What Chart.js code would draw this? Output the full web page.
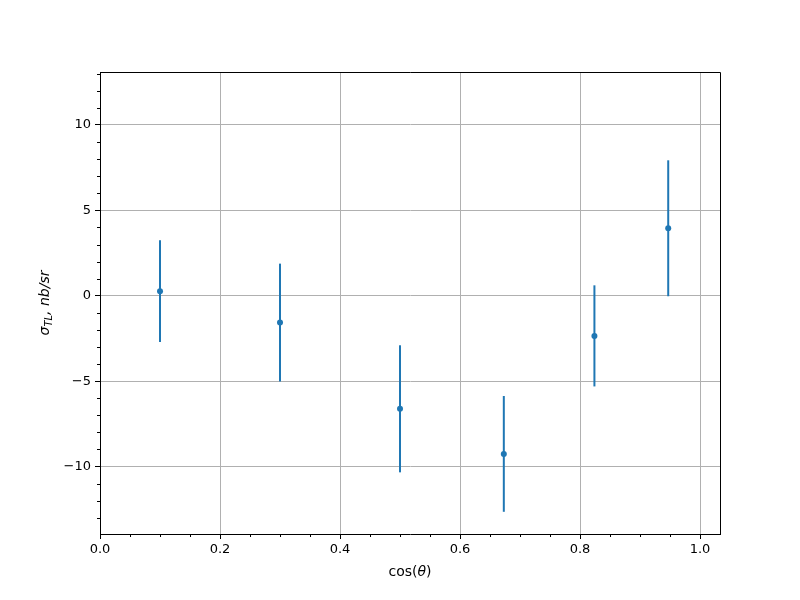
<!DOCTYPE html>
<html>
<head>
<meta charset="utf-8">
<script src="https://cdn.jsdelivr.net/npm/chart.js@4"></script>
<style>
  html, body { margin: 0; padding: 0; background: #fff; }
</style>
</head>
<body>
<canvas id="errChart" width="800" height="600"></canvas>
<script>
const cosTheta = [0.1, 0.3, 0.5, 0.673, 0.824, 0.947];
const sigmaTL = [0.27, -1.57, -6.62, -9.26, -2.35, 3.95];
const sigmaErr = [2.98, 3.45, 3.72, 3.39, 2.96, 3.98];
const xTicks = [0, 0.2, 0.4, 0.6, 0.8, 1.0];
const yTicks = [-10, -5, 0, 5, 10];
const xMinorStep = 0.05;
const yMinorStep = 1;

const blue = '#1f77b4';
const tickFont = { family: 'DejaVu Sans', size: 13 };

// one little line dataset per error bar
const errorBars = cosTheta.map((x, i) => ({
    data: [{ x: x, y: sigmaTL[i] - sigmaErr[i] }, { x: x, y: sigmaTL[i] + sigmaErr[i] }],
    showLine: true,
    borderColor: blue,
    borderWidth: 2,
    pointRadius: 0,
    order: 1
}));

const points = {
    data: cosTheta.map((x, i) => ({ x: x, y: sigmaTL[i] })),
    backgroundColor: blue,
    borderColor: blue,
    pointRadius: 3,
    borderWidth: 0,
    order: 0
};

const minus = v => String(v).replace('-', '\u2212');

// top/right spines, minor ticks and the mathtext-like axis labels
const framePlugin = {
    id: 'frame',
    afterDraw(chart) {
        const ctx = chart.ctx;
        const a = chart.chartArea;
        const xs = chart.scales.x, ys = chart.scales.y;
        ctx.save();
        ctx.strokeStyle = '#000';
        ctx.lineWidth = 1;
        ctx.beginPath();
        ctx.moveTo(a.left, a.top + 0.5);
        ctx.lineTo(a.right + 0.5, a.top + 0.5);
        ctx.lineTo(a.right + 0.5, a.bottom);
        ctx.stroke();

        ctx.beginPath();
        for (let v = xs.min; v <= xs.max + 1e-9; v += xMinorStep) {
            const r = v / 0.2;
            if (Math.abs(r - Math.round(r)) < 1e-6) continue;
            const px = Math.round(xs.getPixelForValue(v)) + 0.5;
            ctx.moveTo(px, a.bottom);
            ctx.lineTo(px, a.bottom + 3);
        }
        for (let v = Math.ceil(ys.min); v <= ys.max; v += yMinorStep) {
            if (v % 5 === 0) continue;
            const py = Math.round(ys.getPixelForValue(v)) + 0.5;
            ctx.moveTo(a.left, py);
            ctx.lineTo(a.left - 3, py);
        }
        ctx.stroke();

        ctx.fillStyle = '#000';
        ctx.textBaseline = 'alphabetic';

        // x label: cos(θ)
        const up = '14px "DejaVu Sans"', it = 'italic 14px "DejaVu Sans"';
        const xparts = [['cos(', up], ['\u03b8', it], [')', up]];
        let w = 0;
        xparts.forEach(p => { ctx.font = p[1]; w += ctx.measureText(p[0]).width; });
        let cx = (a.left + a.right) / 2 - w / 2;
        xparts.forEach(p => {
            ctx.font = p[1];
            ctx.fillText(p[0], cx, 576);
            cx += ctx.measureText(p[0]).width;
        });

        // y label: σ_TL, nb/sr
        const sub = 'italic 10px "DejaVu Sans"';
        const yparts = [['\u03c3', it, 0], ['TL', sub, 3], [', ', it, 0], ['nb/sr', it, 0]];
        w = 0;
        yparts.forEach(p => { ctx.font = p[1]; w += ctx.measureText(p[0]).width; });
        ctx.translate(49, (a.top + a.bottom) / 2);
        ctx.rotate(-Math.PI / 2);
        let lx = -w / 2;
        yparts.forEach(p => {
            ctx.font = p[1];
            ctx.fillText(p[0], lx, p[2]);
            lx += ctx.measureText(p[0]).width;
        });
        ctx.restore();
    }
};

new Chart(document.getElementById('errChart'), {
    type: 'scatter',
    data: { datasets: [points, ...errorBars] },
    options: {
        responsive: false,
        animation: false,
        devicePixelRatio: 1,
        layout: { padding: { top: 72, right: 80, left: 0, bottom: 0 } },
        plugins: {
            legend: { display: false },
            tooltip: { enabled: false },
            title: { display: false }
        },
        scales: {
            x: {
                type: 'linear',
                min: 0,
                max: 1.0333,
                afterFit: s => { s.height = 66; },
                afterBuildTicks: s => { s.ticks = xTicks.map(v => ({ value: v })); },
                grid: { color: '#b0b0b0', lineWidth: 1, tickColor: '#000', tickLength: 5, drawTicks: true },
                border: { display: true, color: '#000', width: 1 },
                ticks: {
                    color: '#000',
                    font: tickFont,
                    padding: 3,
                    maxRotation: 0,
                    autoSkip: false,
                    callback: v => v.toFixed(1)
                }
            },
            y: {
                type: 'linear',
                min: -13.95,
                max: 13.1,
                afterFit: s => { s.width = 100; },
                afterBuildTicks: s => { s.ticks = yTicks.map(v => ({ value: v })); },
                grid: { color: '#b0b0b0', lineWidth: 1, tickColor: '#000', tickLength: 5, drawTicks: true },
                border: { display: true, color: '#000', width: 1 },
                ticks: {
                    color: '#000',
                    font: tickFont,
                    padding: 4,
                    autoSkip: false,
                    callback: v => minus(v)
                }
            }
        }
    },
    plugins: [framePlugin]
});
</script>
</body>
</html>
